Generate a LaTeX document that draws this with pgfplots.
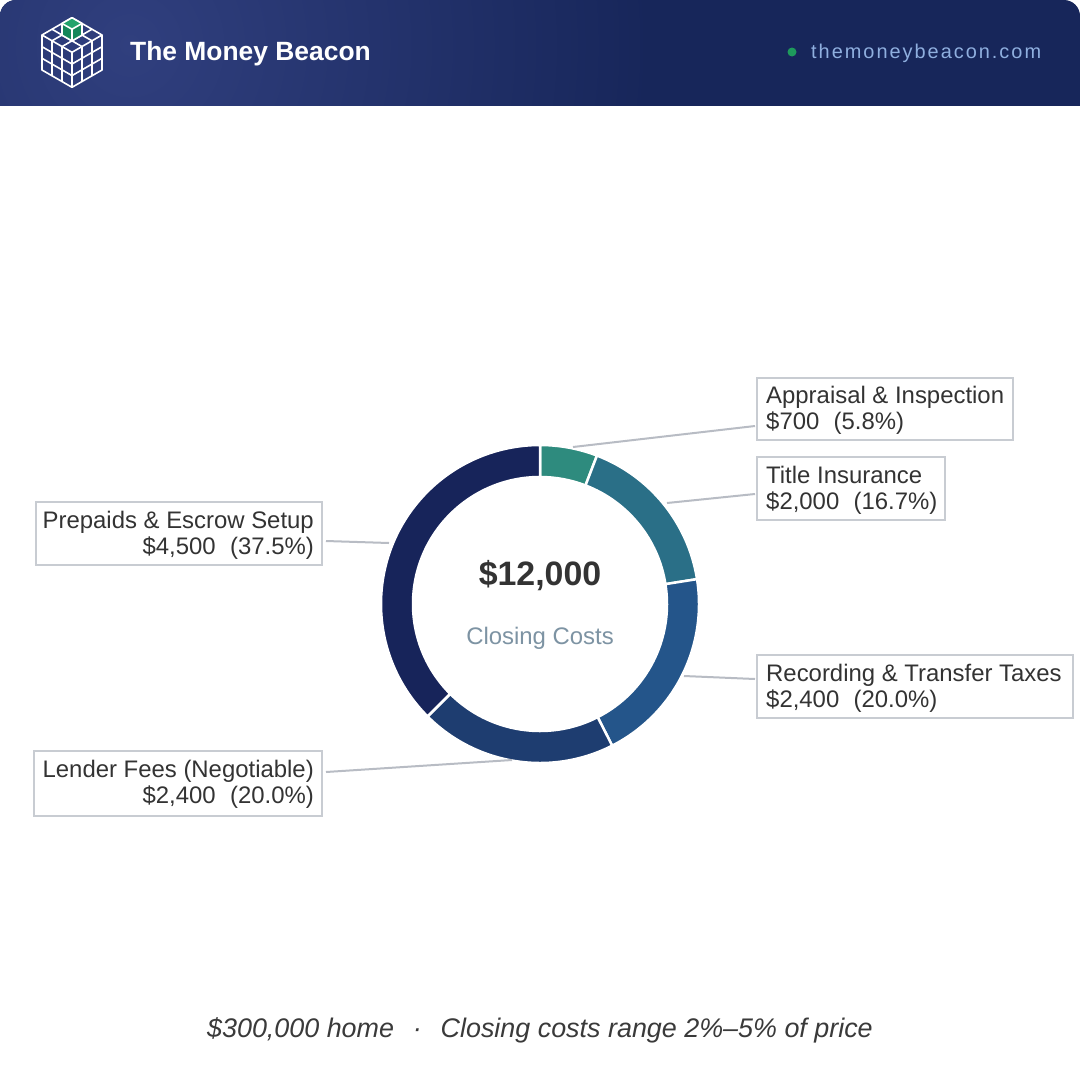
\documentclass[border=0pt]{standalone}
\usepackage{pgfplots}
\pgfplotsset{compat=1.18}
\usepackage{pgfplotstable}
\usepackage{fontspec}
\setmainfont{Liberation Sans}
\usetikzlibrary{calc}

\definecolor{hbase}{HTML}{17265A}
\definecolor{hlight}{HTML}{303F7E}
\definecolor{c0}{HTML}{2E8B7E}
\definecolor{c1}{HTML}{2A6F87}
\definecolor{c2}{HTML}{24558A}
\definecolor{c3}{HTML}{1E3D70}
\definecolor{c4}{HTML}{17245A}
\definecolor{txt}{HTML}{333333}
\definecolor{subc}{HTML}{7D93A3}
\definecolor{boxc}{HTML}{C8CCD2}
\definecolor{leadc}{HTML}{B8BCC4}
\definecolor{urlc}{HTML}{8FAFDF}
\definecolor{dotc}{HTML}{1E9A5C}
\definecolor{gtop}{HTML}{22A36C}
\definecolor{gside}{HTML}{15875A}
\definecolor{ftxt}{HTML}{3A3A3A}

\pgfplotstableread{
item value
Appraisal 700
Title 2000
Recording 2400
Lender 2400
Prepaids 4500
}\costs

\begin{document}
\begin{tikzpicture}
% angles from the data
\gdef\total{0}
\pgfplotstableforeachcolumnelement{value}\of\costs\as\v{%
  \pgfmathparse{\total+\v}\xdef\total{\pgfmathresult}}
\gdef\cum{0}
\pgfplotstableforeachcolumnelement{value}\of\costs\as\v{%
  \pgfmathsetmacro\sa{90-(\cum/\total)*360}%
  \pgfmathparse{\cum+\v}\xdef\cum{\pgfmathresult}%
  \pgfmathsetmacro\ea{90-(\cum/\total)*360}%
  \expandafter\xdef\csname sa\pgfplotstablerow\endcsname{\sa}%
  \expandafter\xdef\csname ea\pgfplotstablerow\endcsname{\ea}%
}
\begin{axis}[at={(0,0)}, anchor=south west, scale only axis,
  width=1080bp, height=1080bp,
  xmin=0, xmax=1080, ymin=0, ymax=1080, y dir=reverse,
  hide axis, clip=false]
% background
\fill[white] (axis cs:0,0) rectangle (axis cs:1080,1080);
% header
\begin{scope}
\clip[rounded corners=16bp] (axis cs:0,0) rectangle (axis cs:1080,200);
\fill[hbase] (axis cs:0,0) rectangle (axis cs:1080,106);
\begin{scope}
\clip (axis cs:0,0) rectangle (axis cs:1080,105.2);
\shade[inner color=hlight, outer color=hbase] (axis cs:130,45) circle (520bp);
\end{scope}
\end{scope}
% logo
\begin{scope}[white, line width=1.6bp, line join=round]
\draw (axis cs:72,17.7) -- (axis cs:102,35) -- (axis cs:102,70) -- (axis cs:72,87.3) -- (axis cs:42,70) -- (axis cs:42,35) -- cycle;
\draw (axis cs:42,35) -- (axis cs:72,52.3) -- (axis cs:102,35);
\draw (axis cs:72,52.3) -- (axis cs:72,87.3);
\draw (axis cs:82,23.5) -- (axis cs:52,40.8);
\draw (axis cs:92,29.2) -- (axis cs:62,46.6);
\draw (axis cs:62,23.5) -- (axis cs:92,40.8);
\draw (axis cs:52,29.2) -- (axis cs:82,46.6);
\draw (axis cs:52,40.8) -- (axis cs:52,75.8);
\draw (axis cs:62,46.6) -- (axis cs:62,81.6);
\draw (axis cs:42,46.7) -- (axis cs:72,64);
\draw (axis cs:42,58.3) -- (axis cs:72,75.6);
\draw (axis cs:82,46.6) -- (axis cs:82,81.6);
\draw (axis cs:92,40.8) -- (axis cs:92,75.8);
\draw (axis cs:72,64) -- (axis cs:102,46.7);
\draw (axis cs:72,75.6) -- (axis cs:102,58.3);
\fill[gside] (axis cs:72,17.7) -- (axis cs:82,23.5) -- (axis cs:82,35.2) -- (axis cs:72,40.9) -- (axis cs:62,35.2) -- (axis cs:62,23.5) -- cycle;
\fill[gtop] (axis cs:72,17.7) -- (axis cs:82,23.5) -- (axis cs:72,29.2) -- (axis cs:62,23.5) -- cycle;
\draw (axis cs:72,17.7) -- (axis cs:82,23.5) -- (axis cs:82,35.2) -- (axis cs:72,40.9) -- (axis cs:62,35.2) -- (axis cs:62,23.5) -- cycle;
\draw (axis cs:62,23.5) -- (axis cs:72,29.2) -- (axis cs:82,23.5);
\draw (axis cs:72,29.2) -- (axis cs:72,40.9);
\end{scope}
\node[anchor=base west, white, font=\bfseries\fontsize{26.5}{30}\selectfont, inner sep=0pt] at (axis cs:130,60) {The Money Beacon};
\fill[dotc] (axis cs:792,52) circle (4.5bp);
\node[anchor=base west, urlc, font=\fontsize{20}{23}\selectfont\addfontfeatures{LetterSpace=10}, inner sep=0pt] at (axis cs:811,58) {themoneybeacon.com};

% donut
\pgfplotsinvokeforeach{0,...,4}{%
  \edef\tmp{\noexpand\fill[c#1, draw=white, line width=2.5bp]
    ($(axis cs:540,604)+(\csname sa#1\endcsname:159bp)$)
    arc[start angle=\csname sa#1\endcsname, end angle=\csname ea#1\endcsname, radius=159bp]
    -- ($(axis cs:540,604)+(\csname ea#1\endcsname:127bp)$)
    arc[start angle=\csname ea#1\endcsname, end angle=\csname sa#1\endcsname, radius=127bp]
    -- cycle;}\tmp
}
\node[anchor=base, txt, font=\bfseries\fontsize{34}{38}\selectfont, inner sep=0pt] at (axis cs:540,585) {\$12,000};
\node[anchor=base, subc, font=\fontsize{24}{28}\selectfont, inner sep=0pt] at (axis cs:540,644) {Closing Costs};

% leader lines
\begin{scope}[leadc, line width=2bp]
\draw (axis cs:573,447) -- (axis cs:755,426);
\draw (axis cs:667,503) -- (axis cs:755,494);
\draw (axis cs:684,676) -- (axis cs:755,679);
\draw (axis cs:326,772) -- (axis cs:512,760);
\draw (axis cs:326,541) -- (axis cs:389,543);
\end{scope}

% label boxes
\begin{scope}[boxc, line width=1.8bp]
\draw[fill=white] (axis cs:757,378) rectangle (axis cs:1013,440);
\draw[fill=white] (axis cs:757,457) rectangle (axis cs:945,520);
\draw[fill=white] (axis cs:757,655) rectangle (axis cs:1073,718);
\draw[fill=white] (axis cs:36,502) rectangle (axis cs:322,565);
\draw[fill=white] (axis cs:34,751) rectangle (axis cs:322,816);
\end{scope}
\begin{scope}[every node/.style={txt, font=\fontsize{24}{28}\selectfont, inner sep=0pt}]
\node[anchor=base west] at (axis cs:766,403) {Appraisal \& Inspection};
\node[anchor=base west] at (axis cs:766,429) {\$700\hspace{0.6em}(5.8\%)};
\node[anchor=base west] at (axis cs:766,483) {Title Insurance};
\node[anchor=base west] at (axis cs:766,509) {\$2,000\hspace{0.6em}(16.7\%)};
\node[anchor=base west] at (axis cs:766,681) {Recording \& Transfer Taxes};
\node[anchor=base west] at (axis cs:766,707) {\$2,400\hspace{0.6em}(20.0\%)};
\node[anchor=base east] at (axis cs:314,528) {Prepaids \& Escrow Setup};
\node[anchor=base east] at (axis cs:314,554) {\$4,500\hspace{0.6em}(37.5\%)};
\node[anchor=base east] at (axis cs:314,777) {Lender Fees (Negotiable)};
\node[anchor=base east] at (axis cs:314,803) {\$2,400\hspace{0.6em}(20.0\%)};
\end{scope}

% footer
\node[anchor=base, ftxt, font=\itshape\fontsize{27}{31}\selectfont, inner sep=0pt] at (axis cs:540,1037) {\$300,000 home\hspace{0.7em}·\hspace{0.7em}Closing costs range 2\%–5\% of price};
\end{axis}
\end{tikzpicture}
\end{document}
